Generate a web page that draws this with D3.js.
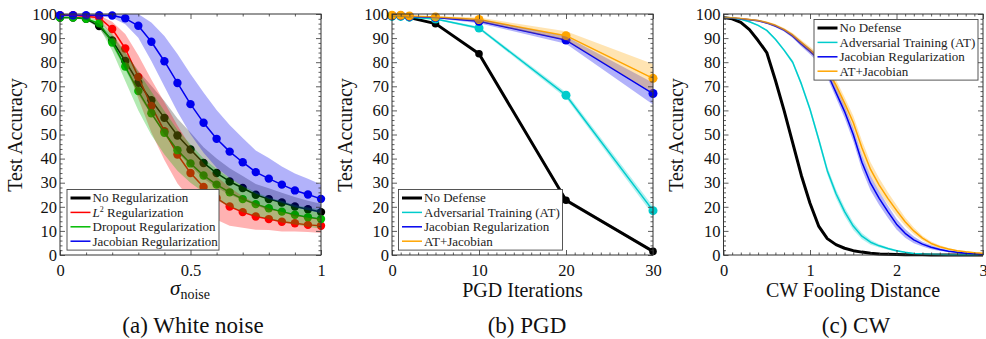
<!DOCTYPE html>
<html>
<head>
<meta charset="utf-8">
<script src="https://cdn.jsdelivr.net/npm/d3@7"></script>
<style>
  body { margin: 0; background: #fff; }
  svg { display: block; }
  svg text { font-family: "Liberation Serif", "Times New Roman", serif !important; }
</style>
</head>
<body>
<div class="visiHolder"></div>
<script>
// ---- (a) white noise ----
const sigmaNoise = [0, 0.05, 0.1, 0.15, 0.2, 0.25, 0.3, 0.35, 0.4, 0.45, 0.5,
  0.55, 0.6, 0.65, 0.7, 0.75, 0.8, 0.85, 0.9, 0.95, 1];
const noRegAcc = [98.5, 98.5, 98, 95, 89, 80.5, 71.5, 64.2, 56.9, 49.6, 43.8,
  38.2, 34, 30.5, 27.8, 25, 23.2, 21.8, 20.1, 19, 17.8];
const noRegStd = [0.3, 0.3, 0.4, 1, 2, 3.5, 5, 6, 7, 7, 7, 6.5, 6, 5.5, 5, 4.5,
  4.5, 4, 4, 3.5, 3.5];
const l2Acc = [99.5, 99.5, 99, 98.5, 93.8, 85.7, 73.9, 61.8, 51.4, 41.7, 34,
  28.2, 23.6, 20.1, 17.8, 16, 14.9, 13.8, 13.2, 12.5, 12.1];
const l2Std = [0.3, 0.3, 0.5, 1, 3, 6, 9, 11, 12, 12, 11, 10, 9, 8, 6.5, 5.5,
  4.5, 4, 3.5, 3, 3];
const dropoutAcc = [98.5, 98.5, 98, 96.1, 88.2, 78.2, 68, 58.8, 50.7, 43.5, 38,
  33, 29.2, 26, 23.2, 21.1, 19.4, 18, 16.7, 15.7, 14.9];
const dropoutStd = [0.3, 0.3, 0.5, 1.5, 3.5, 6, 8, 9, 9, 8.5, 8, 7, 6.5, 6, 5.5,
  5, 4.5, 4.5, 4, 4, 4];
const jacobianAcc = [99.5, 99.5, 99.5, 99.5, 99.4, 98.2, 95.1, 88.5, 80.4, 71.4,
  62.6, 54.9, 48.2, 42.9, 38.5, 34.4, 31.7, 29.2, 26.8, 25.1, 23.3];
const jacobianStd = [0.3, 0.3, 0.3, 0.5, 1, 2.5, 5, 8, 10.5, 12, 12.5, 12.5, 12,
  11, 10, 9, 8.5, 7.5, 7, 6.5, 6];

// ---- (b) PGD ----
const pgdIters = [0, 1, 2, 5, 10, 20, 30];
const pgdNoDefense = [99, 99, 98.5, 96, 83.5, 22.7, 1.5];
const pgdNoDefenseStd = [0.1, 0.1, 0.1, 0.3, 0.5, 0.8, 0.5];
const pgdAT = [99, 99, 98.7, 97.9, 94.2, 66.3, 18.4];
const pgdATStd = [0.1, 0.1, 0.1, 0.3, 0.6, 1.2, 1.8];
const pgdJacobian = [99.3, 99.3, 99, 98.5, 97, 89.2, 67];
const pgdJacobianStd = [0.1, 0.1, 0.1, 0.3, 0.8, 1.5, 4.5];
const pgdATJacobian = [99.5, 99.5, 99.2, 98.8, 97.7, 91, 73.3];
const pgdATJacobianStd = [0.1, 0.1, 0.1, 0.3, 0.8, 1.8, 6];

// ---- (c) CW ----
const cwDistance = [0, 0.1, 0.2, 0.3, 0.4, 0.5, 0.6, 0.7, 0.8, 0.9, 1, 1.1, 1.2,
  1.3, 1.4, 1.5, 1.6, 1.7, 1.8, 1.9, 2, 2.1, 2.2, 2.3, 2.4, 2.5, 2.6, 2.7, 2.8, 2.9, 3];
const cwNoDefense = [98.5, 98, 96.5, 93.5, 89, 84, 72.5, 60, 46.5, 33, 21.5, 12,
  6.8, 4.3, 2.8, 1.8, 1.2, 0.7, 0.4, 0.3, 0.2, 0.1, 0.1, 0.1, 0, 0, 0, 0, 0, 0, 0];
const cwNoDefenseStd = [0.2, 0.2, 0.3, 0.4, 0.6, 0.8, 1, 1.2, 1.2, 1.2, 1, 0.8,
  0.6, 0.4, 0.3, 0.2, 0.2, 0.1, 0.1, 0.1, 0.1, 0, 0, 0, 0, 0, 0, 0, 0, 0, 0];
const cwAT = [98.5, 98.3, 97.8, 96.8, 95.3, 93.2, 89.5, 85, 80, 71, 60.5, 48, 35,
  25.5, 18, 12, 7.8, 5.3, 3.8, 2.7, 1.8, 1.1, 0.6, 0.4, 0.3, 0.2, 0.1, 0.1, 0.1, 0.1, 0.1];
const cwATStd = [0.2, 0.2, 0.2, 0.3, 0.3, 0.4, 0.5, 0.6, 0.8, 1, 1.2, 1.4, 1.6,
  1.8, 1.8, 1.6, 1.3, 1, 0.7, 0.5, 0.4, 0.3, 0.2, 0.1, 0.1, 0.1, 0, 0, 0, 0, 0];
const cwJacobian = [98.5, 98.3, 98, 97.6, 97.2, 96.3, 95, 93.3, 90.8, 87.5, 84.5,
  81.2, 75.5, 67.5, 59.5, 50, 38.5, 29.8, 23.5, 18, 12.8, 9, 6.3, 4.5, 3.2, 2.3,
  1.6, 1.1, 0.7, 0.5, 0.3];
const cwJacobianStd = [0.2, 0.2, 0.2, 0.3, 0.3, 0.4, 0.5, 0.6, 0.8, 1, 1.2, 1.5,
  1.8, 2.2, 2.5, 2.8, 3, 3, 2.8, 2.5, 2.2, 1.8, 1.4, 1, 0.8, 0.6, 0.4, 0.3, 0.2, 0.2, 0.1];
const cwATJacobian = [98.5, 98.4, 98.1, 97.7, 97.3, 96.5, 95.3, 93.6, 91.3, 88.2,
  85.2, 82, 77, 70.5, 63, 55, 44.5, 35.5, 29, 23.5, 18.5, 13.8, 10, 7, 4.8, 3.4,
  2.5, 1.8, 1.3, 0.9, 0.7];
const cwATJacobianStd = [0.2, 0.2, 0.2, 0.3, 0.3, 0.4, 0.5, 0.6, 0.8, 1, 1.2, 1.5,
  1.8, 2.2, 2.5, 2.8, 3, 3, 2.8, 2.5, 2.2, 1.8, 1.4, 1, 0.8, 0.6, 0.4, 0.3, 0.2, 0.2, 0.1];

// ticks and labels
const accTicks = [0, 10, 20, 30, 40, 50, 60, 70, 80, 90, 100];
const sigmaTicks = [0, 0.5, 1];
const sigmaTickLabels = ["0", "0.5", "1"];
const pgdTicks = [0, 10, 20, 30];
const cwTicks = [0, 1, 2, 3];

const width = 986;
const height = 339;
const plotTop = 14;
const plotBottom = 255;

const svg = d3
  .select(".visiHolder")
  .append("svg")
  .attr("width", width)
  .attr("height", height);

const yScale = d3.scaleLinear().domain([0, 100]).range([plotBottom, plotTop]);

function drawFrame(g, xScale, majorX, minorX, xFormat) {
  const left = xScale.range()[0];
  const right = xScale.range()[1];
  const yMinor = d3.range(0, 101, 2).filter((v) => v % 10 !== 0);

  const axes = [
    [d3.axisLeft(yScale).tickValues(accTicks).tickSize(-5).tickPadding(3), `translate(${left},0)`, true],
    [d3.axisLeft(yScale).tickValues(yMinor).tickSize(-2.5).tickFormat(""), `translate(${left},0)`, false],
    [d3.axisRight(yScale).tickValues(accTicks).tickSize(-5).tickFormat(""), `translate(${right},0)`, false],
    [d3.axisRight(yScale).tickValues(yMinor).tickSize(-2.5).tickFormat(""), `translate(${right},0)`, false],
    [d3.axisBottom(xScale).tickValues(majorX).tickSize(-5).tickPadding(9.5).tickFormat(xFormat), `translate(0,${plotBottom})`, true],
    [d3.axisBottom(xScale).tickValues(minorX).tickSize(-2.5).tickFormat(""), `translate(0,${plotBottom})`, false],
    [d3.axisTop(xScale).tickValues(majorX).tickSize(-5).tickFormat(""), `translate(0,${plotTop})`, false],
    [d3.axisTop(xScale).tickValues(minorX).tickSize(-2.5).tickFormat(""), `translate(0,${plotTop})`, false],
  ];
  axes.forEach(([axis, tr, labels]) => {
    const a = g.append("g").attr("transform", tr).call(axis);
    a.select(".domain").remove();
    a.selectAll("line").attr("stroke", "#333").attr("stroke-width", 0.8);
    if (labels) {
      a.selectAll("text")
        .attr("fill", "#111")
        .style("font-size", "16.5px");
    }
  });

  g.append("rect")
    .attr("x", left)
    .attr("y", plotTop)
    .attr("width", right - left)
    .attr("height", plotBottom - plotTop)
    .attr("fill", "none")
    .attr("stroke", "#333")
    .attr("stroke-width", 1);
}

function drawBands(g, xScale, xs, series) {
  series.forEach((s) => {
    const area = d3
      .area()
      .x((d, i) => xScale(xs[i]))
      .y0((d, i) => yScale(Math.max(0, d - s.std[i])))
      .y1((d, i) => yScale(Math.min(100, d + s.std[i])));
    g.append("path")
      .datum(s.values)
      .attr("d", area)
      .attr("fill", s.color)
      .attr("fill-opacity", s.bandOpacity || 0.3)
      .attr("stroke", "none");
  });
}

function drawLines(g, xScale, xs, series, markers) {
  series.forEach((s) => {
    const line = d3
      .line()
      .x((d, i) => xScale(xs[i]))
      .y((d) => yScale(d));
    g.append("path")
      .datum(s.values)
      .attr("d", line)
      .attr("fill", "none")
      .attr("stroke", s.color)
      .attr("stroke-width", s.width)
      .attr("stroke-linejoin", "round");
    if (markers) {
      g.selectAll(null)
        .data(s.values)
        .enter()
        .append("circle")
        .attr("cx", (d, i) => xScale(xs[i]))
        .attr("cy", (d) => yScale(d))
        .attr("r", s.r)
        .attr("fill", s.color);
    }
  });
}

function drawLegend(g, x, y, w, entries) {
  const rowH = 14.4;
  g.append("rect")
    .attr("x", x)
    .attr("y", y)
    .attr("width", w)
    .attr("height", entries.length * rowH + 3)
    .attr("fill", "#fff")
    .attr("stroke", "#444")
    .attr("stroke-width", 0.9);
  entries.forEach((e, i) => {
    const cy = y + 8.5 + i * rowH;
    g.append("line")
      .attr("x1", x + 3.5)
      .attr("x2", x + 23.5)
      .attr("y1", cy)
      .attr("y2", cy)
      .attr("stroke", e.color)
      .attr("stroke-width", e.width);
    const t = g
      .append("text")
      .attr("x", x + 25.5)
      .attr("y", cy + 4.3)
      .attr("fill", "#222")
      .style("font-size", "13px");
    if (e.label === "L2") {
      t.append("tspan").style("font-style", "italic").text("L");
      t.append("tspan").attr("dy", -5).style("font-size", "8px").text("2");
      t.append("tspan").attr("dy", 5).text(" Regularization");
    } else {
      t.text(e.label);
    }
  });
}

function yLabel(cx) {
  svg
    .append("text")
    .attr("transform", `translate(${cx},135) rotate(-90)`)
    .attr("text-anchor", "middle")
    .attr("dy", "0.35em")
    .attr("fill", "#111")
    .style("font-size", "20px")
    .text("Test Accuracy");
}

function caption(cx, txt) {
  svg
    .append("text")
    .attr("x", cx)
    .attr("y", 333)
    .attr("text-anchor", "middle")
    .attr("fill", "#111")
    .style("font-size", "23px")
    .text(txt);
}

// ---------------- panel (a) ----------------
const xA = d3.scaleLinear().domain([0, 1]).range([60, 321]);
const gA = svg.append("g");
const seriesA = [
  { values: noRegAcc, std: noRegStd, color: "#000000", width: 1.5, r: 4.2, bandOpacity: 0.25 },
  { values: l2Acc, std: l2Std, color: "#ff0000", width: 1.5, r: 4.2 },
  { values: dropoutAcc, std: dropoutStd, color: "#00bb00", width: 1.5, r: 4.2 },
  { values: jacobianAcc, std: jacobianStd, color: "#0000ee", width: 1.5, r: 4.2 },
];
drawLines(gA, xA, sigmaNoise, seriesA, true);
drawBands(gA, xA, sigmaNoise, seriesA);
drawFrame(gA, xA, sigmaTicks, d3.range(0.1, 1, 0.1).filter((v) => Math.abs(v - 0.5) > 0.01),
  (d, i) => sigmaTickLabels[i]);
drawLegend(gA, 67, 189.5, 152, [
  { label: "No Regularization", color: "#000", width: 3 },
  { label: "L2", color: "#ff0000", width: 1.5 },
  { label: "Dropout Regularization", color: "#00bb00", width: 1.5 },
  { label: "Jacobian Regularization", color: "#0000ee", width: 1.5 },
]);
yLabel(15);
const sig = svg
  .append("text")
  .attr("x", 190)
  .attr("y", 295)
  .attr("text-anchor", "middle")
  .attr("fill", "#111")
  .style("font-size", "21px");
sig.append("tspan").style("font-style", "italic").text("σ");
sig.append("tspan").attr("dy", 4).style("font-size", "14px").text("noise");
caption(193, "(a) White noise");

// ---------------- panel (b) ----------------
const xB = d3.scaleLinear().domain([0, 30]).range([392, 653]);
const gB = svg.append("g");
const seriesB = [
  { values: pgdNoDefense, std: pgdNoDefenseStd, color: "#000000", width: 3, r: 3.8 },
  { values: pgdAT, std: pgdATStd, color: "#00cccc", width: 1.5, r: 4.5 },
  { values: pgdJacobian, std: pgdJacobianStd, color: "#0000ee", width: 1.5, r: 4.5 },
  { values: pgdATJacobian, std: pgdATJacobianStd, color: "#ffa500", width: 1.5, r: 4.5 },
];
drawLines(gB, xB, pgdIters, seriesB, true);
drawBands(gB, xB, pgdIters, seriesB);
drawFrame(gB, xB, pgdTicks, d3.range(1, 30).filter((v) => v % 10 !== 0), d3.format("d"));
drawLegend(gB, 398.5, 189.5, 164, [
  { label: "No Defense", color: "#000", width: 3 },
  { label: "Adversarial Training (AT)", color: "#00cccc", width: 1.5 },
  { label: "Jacobian Regularization", color: "#0000ee", width: 1.5 },
  { label: "AT+Jacobian", color: "#ffa500", width: 1.5 },
]);
yLabel(345);
svg
  .append("text")
  .attr("x", 522.5)
  .attr("y", 297)
  .attr("text-anchor", "middle")
  .attr("fill", "#111")
  .style("font-size", "20px")
  .text("PGD Iterations");
caption(527, "(b) PGD");

// ---------------- panel (c) ----------------
const xC = d3.scaleLinear().domain([0, 3]).range([723.5, 983]);
const gC = svg.append("g");
const seriesC = [
  { values: cwNoDefense, std: cwNoDefenseStd, color: "#000000", width: 3 },
  { values: cwAT, std: cwATStd, color: "#00cccc", width: 1.5 },
  { values: cwJacobian, std: cwJacobianStd, color: "#0000ee", width: 1.5 },
  { values: cwATJacobian, std: cwATJacobianStd, color: "#ffa500", width: 1.5 },
];
drawLines(gC, xC, cwDistance, seriesC, false);
drawBands(gC, xC, cwDistance, seriesC);
drawFrame(gC, xC, cwTicks, d3.range(0.1, 3, 0.1).filter((v) => Math.abs(v - Math.round(v)) > 0.01),
  d3.format("d"));
drawLegend(gC, 814, 19.5, 164, [
  { label: "No Defense", color: "#000", width: 3 },
  { label: "Adversarial Training (AT)", color: "#00cccc", width: 1.5 },
  { label: "Jacobian Regularization", color: "#0000ee", width: 1.5 },
  { label: "AT+Jacobian", color: "#ffa500", width: 1.5 },
]);
yLabel(676);
svg
  .append("text")
  .attr("x", 853)
  .attr("y", 297)
  .attr("text-anchor", "middle")
  .attr("fill", "#111")
  .style("font-size", "20px")
  .text("CW Fooling Distance");
caption(856, "(c) CW");
</script>
</body>
</html>
